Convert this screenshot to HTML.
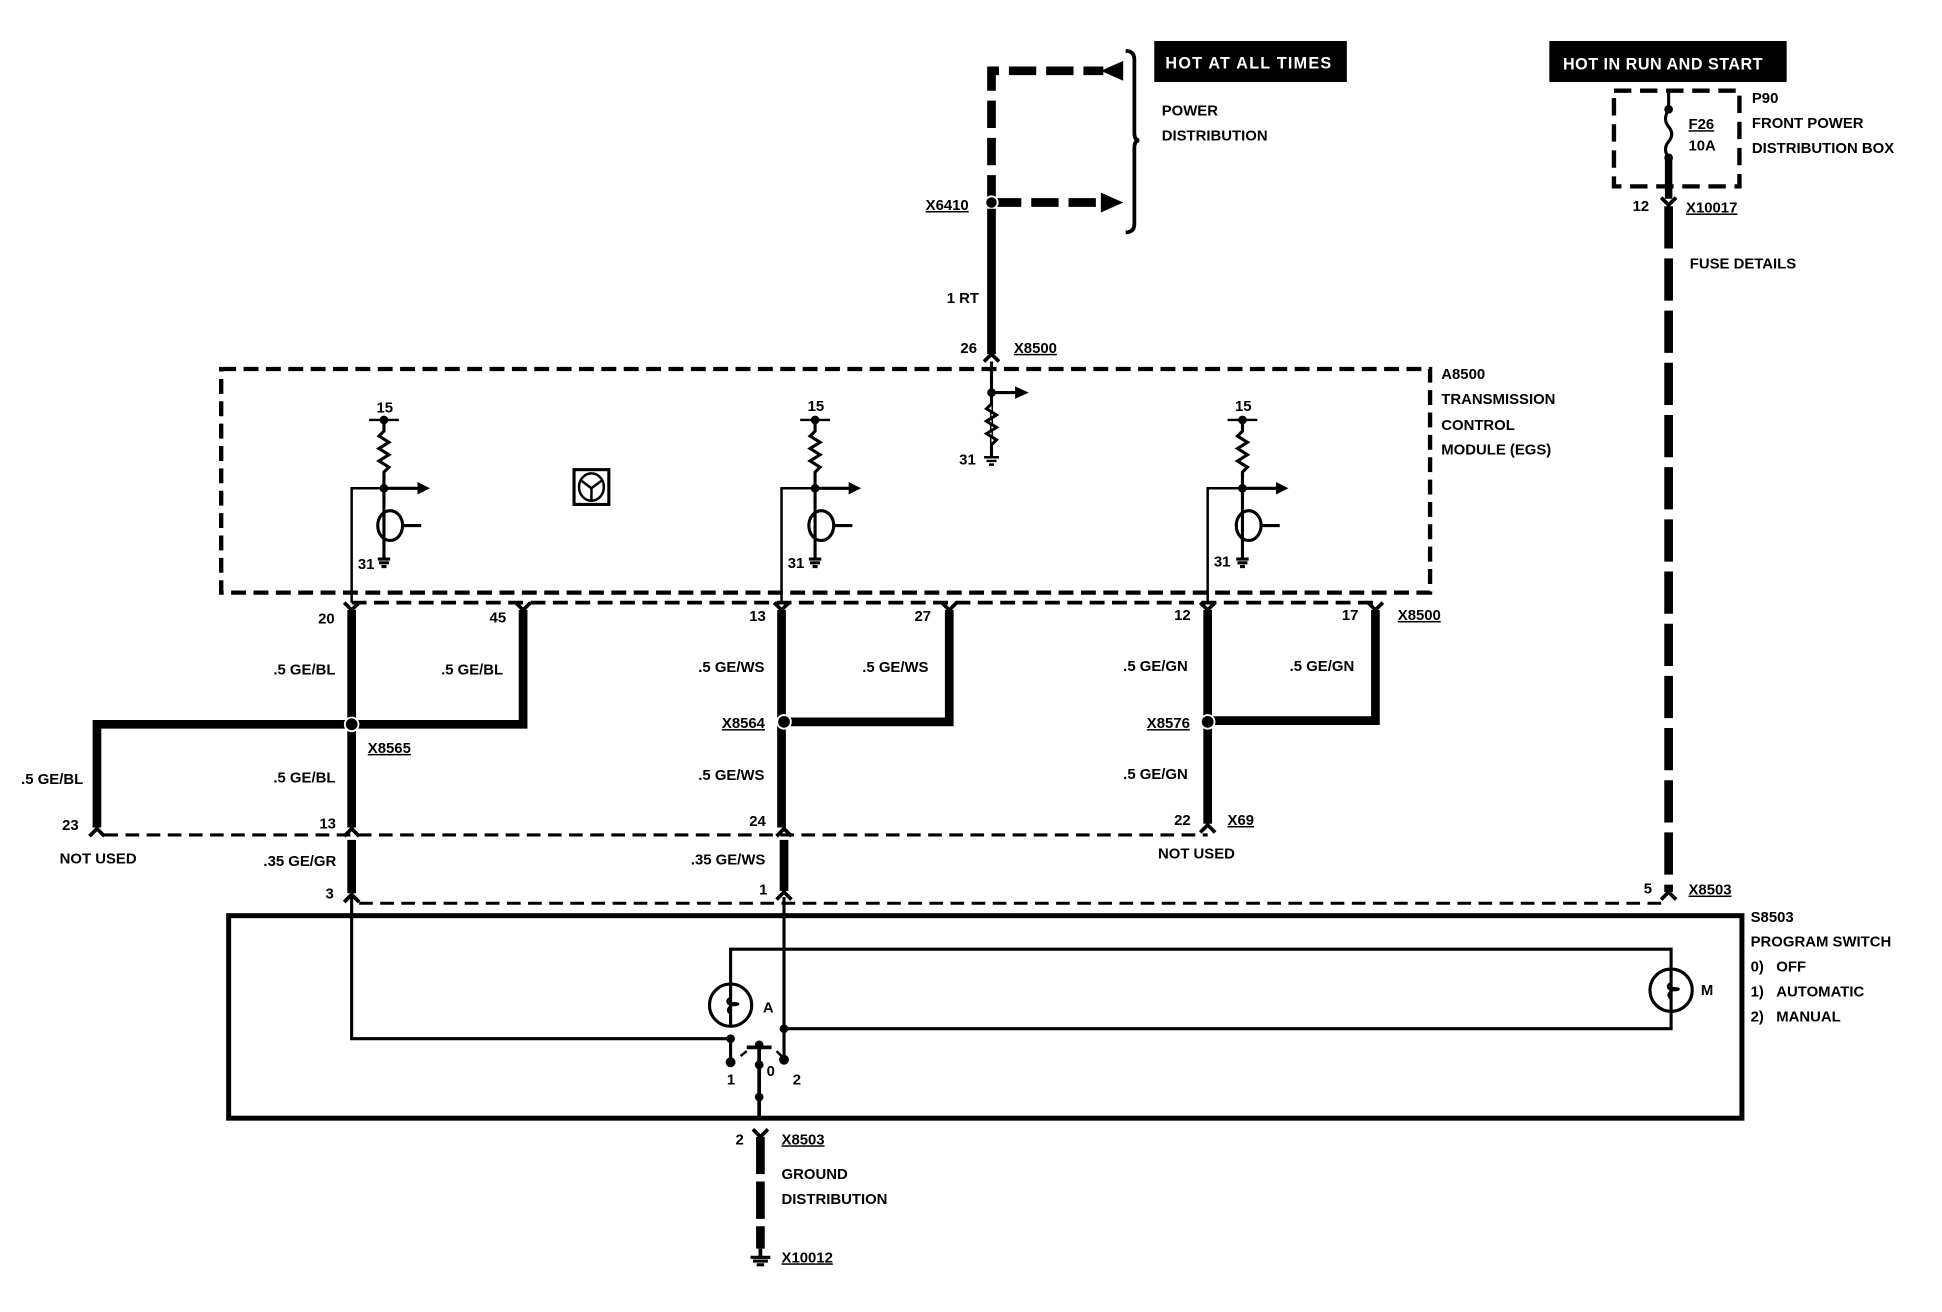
<!DOCTYPE html>
<html><head><meta charset="utf-8"><style>
html,body{margin:0;padding:0;background:#fff;}
svg{display:block;}
text{font-family:"Liberation Sans",Arial,sans-serif;font-size:12px;fill:#000;font-weight:bold;}
</style></head><body>
<svg width="1942" height="1312" viewBox="0 0 1563 1056" xmlns="http://www.w3.org/2000/svg">
<g stroke="#000" fill="none">
<path d="M798,163 V57 H888" stroke-width="7" stroke-dasharray="22,8"/>
<polygon points="886,57 904,49 904,65" fill="#000" stroke="none"/>
<path d="M800,163 H886" stroke-width="7" stroke-dasharray="22,8"/>
<polygon points="904,163 886,155 886,171" fill="#000" stroke="none"/>
<circle cx="798" cy="163" r="5" fill="#000" stroke="#fff" stroke-width="1.5"/>
<path d="M906,41 Q913,41 913,48 V107 Q913,113 917,113 Q913,113 913,119 V180 Q913,187 906,187" stroke-width="3"/>
<path d="M798,168 V285" stroke-width="7"/>
<path d="M792,291 L798,285 L804,291" stroke-width="3"/>
<rect x="178" y="297" width="973" height="180" stroke-width="3.5" stroke-dasharray="12,6"/>
<path d="M283,485 H1110" stroke-width="3" stroke-dasharray="12,6"/>
<path d="M798,291 V368" stroke-width="2.5"/>
<circle cx="798" cy="316" r="3" fill="#000"/>
<path d="M798,316 H818" stroke-width="2.5"/>
<polygon points="828,316 817,311 817,321" fill="#000" stroke="none"/>
<path d="M798,325 l-4,4 l8,5 l-8,5 l8,5 l-8,5 l8,5 l-4,4" fill="#fff" stroke-width="2.5"/>
<path d="M792,368 h12 M794,371 h8 M796,374 h4" stroke-width="2"/>
<rect x="462" y="378" width="28" height="28" stroke-width="2.5"/>
<ellipse cx="476" cy="392" rx="10" ry="11" stroke-width="2"/>
<path d="M468,387 L476,393 L484,387 M476,393 V403" stroke-width="2"/>
</g>
<g stroke="#000" fill="none">
<g id="tr1" transform="translate(309,0)">
<path d="M-12,338 H12" stroke-width="2"/>
<circle cx="0" cy="338" r="3" fill="#000"/>
<path d="M0,338 V347 l-4,4 l8,5 l-8,5 l8,5 l-8,5 l8,5 l-4,4 V410" stroke-width="2.5"/>
<circle cx="0" cy="393" r="3" fill="#000"/>
<path d="M0,393 H28" stroke-width="2.5"/>
<polygon points="37,393 27,388 27,398" fill="#000" stroke="none"/>
<ellipse cx="5" cy="423" rx="10" ry="12" stroke-width="2.5"/>
<path d="M15,423 H30 M0,410 V450" stroke-width="2.5"/>
<path d="M-5,450 h10 M-4,453 h8 M-2,456 h4" stroke-width="2.5"/>
</g>
<use href="#tr1" transform="translate(347,0)"/>
<use href="#tr1" transform="translate(691,0)"/>
<path d="M309,393 H283 V485 M656,393 H629 V485 M1000,393 H972 V485" stroke-width="2"/>
<path d="M283,491 V666 M421,491 V583 H283 M629,491 V666 M764,491 V581 H631 M972,491 V663 M1107,491 V580 H972 M283,583 H78 V666" stroke-width="7"/>
<path d="M283,676 V719 M631,676 V717" stroke-width="7"/>
<g stroke-width="3">
<path d="M277,485 L283,491 L289,485 M415,485 L421,491 L427,485 M623,485 L629,491 L635,485 M758,485 L764,491 L770,485 M966,485 L972,491 L978,485 M1101,485 L1107,491 L1113,485"/>
<path d="M72,673 L78,667 L84,673 M277,673 L283,667 L289,673 M625,673 L631,667 L637,673 M966,670 L972,664 L978,670"/>
<path d="M277,726 L283,720 L289,726 M625,724 L631,718 L637,724 M1337,724 L1343,718 L1349,724"/>
<path d="M1337,159 L1343,165 L1349,159 M606,909 L612,915 L618,909"/>
</g>
<circle cx="283" cy="583" r="5.5" fill="#000" stroke="#fff" stroke-width="1.5"/>
<circle cx="631" cy="581" r="5.5" fill="#000" stroke="#fff" stroke-width="1.5"/>
<circle cx="972" cy="581" r="5.5" fill="#000" stroke="#fff" stroke-width="1.5"/>
<path d="M84,672 H972" stroke-width="2.5" stroke-dasharray="11,6"/>
<path d="M289,727 H1338" stroke-width="2.5" stroke-dasharray="11,6"/>
<rect x="1299" y="73" width="101" height="77" stroke-width="3.5" stroke-dasharray="14,7"/>
<path d="M1343,73 V88" stroke-width="2.5"/>
<circle cx="1343" cy="88" r="3" fill="#000"/>
<path d="M1343,88 q-5,8 0,14 q5,6 0,12 q-5,6 0,13" stroke-width="2.5"/>
<circle cx="1343" cy="127" r="3" fill="#000"/>
<path d="M1343,127 V160" stroke-width="6"/>
<path d="M1343,166 V718" stroke-width="7" stroke-dasharray="34,8"/>
<rect x="184" y="737" width="1218" height="163" stroke-width="4"/>
<path d="M283,722 V836 H588 M631,722 V852 M631,828 H1345 V780 M588,826 V764 H1345 V780" stroke-width="2.5"/>
<circle cx="588" cy="809" r="17" stroke-width="2.5"/>
<circle cx="1345" cy="797" r="17" stroke-width="2.5"/>
<path d="M588,792 V803 q-5,3 0,6 q6,0 6,-1 q-6,-2 -6,2 q-4,3 0,6 V826" stroke-width="2"/>
<path d="M1345,780 V791 q-5,3 0,6 q6,0 6,-1 q-6,-2 -6,2 q-4,3 0,6 V814" stroke-width="2"/>
<path d="M588,836 V854" stroke-width="2.5"/>
<circle cx="588" cy="836" r="3" fill="#000"/>
<circle cx="631" cy="828" r="3" fill="#000"/>
<circle cx="588" cy="855" r="3.5" fill="#000"/>
<circle cx="631" cy="853" r="3.5" fill="#000"/>
<path d="M611,841 V900 M601,843 H621" stroke-width="3"/>
<circle cx="611" cy="841" r="3" fill="#000"/>
<circle cx="611" cy="857" r="3" fill="#000"/>
<circle cx="611" cy="883" r="3" fill="#000"/>
<path d="M596,850 l5,-4 M625,846 l4,4" stroke-width="2"/>
<path d="M612,915 V1005" stroke-width="7" stroke-dasharray="30,6"/>
<path d="M604,1012 h16 M606,1015 h12 M609,1018 h6" stroke-width="2.5"/>
<path d="M612,1005 V1012" stroke-width="3"/>
</g>
<rect x="929" y="33" width="155" height="33" fill="#000"/>
<text x="938" y="55" style="fill:#fff;letter-spacing:1px;font-size:13px">HOT AT ALL TIMES</text>
<rect x="1247" y="33" width="191" height="33" fill="#000"/>
<text x="1258" y="56" style="fill:#fff;letter-spacing:0.4px;font-size:13px">HOT IN RUN AND START</text>
<g>
<text x="935" y="93">POWER</text>
<text x="935" y="113">DISTRIBUTION</text>
<text x="745" y="169" text-decoration="underline">X6410</text>
<text x="762" y="244">1 RT</text>
<text x="773" y="284">26</text>
<text x="816" y="284" text-decoration="underline">X8500</text>
<text x="772" y="374">31</text>
<text x="1160" y="305">A8500</text>
<text x="1160" y="325">TRANSMISSION</text>
<text x="1160" y="346">CONTROL</text>
<text x="1160" y="366">MODULE (EGS)</text>
<text x="303" y="332">15</text><text x="650" y="331">15</text><text x="994" y="331">15</text>
<text x="288" y="458">31</text><text x="634" y="457">31</text><text x="977" y="456">31</text>
<text x="256" y="502">20</text><text x="394" y="501">45</text><text x="603" y="500">13</text><text x="736" y="500">27</text><text x="945" y="499">12</text><text x="1080" y="499">17</text>
<text x="1125" y="499" text-decoration="underline">X8500</text>
<text x="220" y="543">.5 GE/BL</text><text x="355" y="543">.5 GE/BL</text>
<text x="562" y="541">.5 GE/WS</text><text x="694" y="541">.5 GE/WS</text>
<text x="904" y="540">.5 GE/GN</text><text x="1038" y="540">.5 GE/GN</text>
<text x="296" y="606" text-decoration="underline">X8565</text>
<text x="581" y="586" text-decoration="underline">X8564</text>
<text x="923" y="586" text-decoration="underline">X8576</text>
<text x="17" y="631">.5 GE/BL</text><text x="220" y="630">.5 GE/BL</text>
<text x="562" y="628">.5 GE/WS</text><text x="904" y="627">.5 GE/GN</text>
<text x="50" y="668">23</text><text x="257" y="667">13</text><text x="603" y="665">24</text><text x="945" y="664">22</text>
<text x="988" y="664" text-decoration="underline">X69</text>
<text x="48" y="695">NOT USED</text><text x="932" y="691">NOT USED</text>
<text x="212" y="697">.35 GE/GR</text><text x="556" y="696">.35 GE/WS</text>
<text x="262" y="723">3</text><text x="611" y="720">1</text>
<text x="1323" y="719">5</text><text x="1359" y="720" text-decoration="underline">X8503</text>
<text x="1410" y="83">P90</text>
<text x="1410" y="103">FRONT POWER</text>
<text x="1410" y="123">DISTRIBUTION BOX</text>
<text x="1359" y="104" text-decoration="underline">F26</text>
<text x="1359" y="121">10A</text>
<text x="1314" y="170">12</text><text x="1357" y="171" text-decoration="underline">X10017</text>
<text x="1360" y="216">FUSE DETAILS</text>
<text x="1409" y="742">S8503</text>
<text x="1409" y="762">PROGRAM SWITCH</text>
<text x="1409" y="782">0)&#160;&#160;&#160;OFF</text>
<text x="1409" y="802">1)&#160;&#160;&#160;AUTOMATIC</text>
<text x="1409" y="822">2)&#160;&#160;&#160;MANUAL</text>
<text x="614" y="815">A</text><text x="1369" y="801">M</text>
<text x="585" y="873">1</text><text x="617" y="866">0</text><text x="638" y="873">2</text>
<text x="592" y="921">2</text><text x="629" y="921" text-decoration="underline">X8503</text>
<text x="629" y="949">GROUND</text><text x="629" y="969">DISTRIBUTION</text>
<text x="629" y="1016" text-decoration="underline">X10012</text>
</g>
</svg>
</body></html>
